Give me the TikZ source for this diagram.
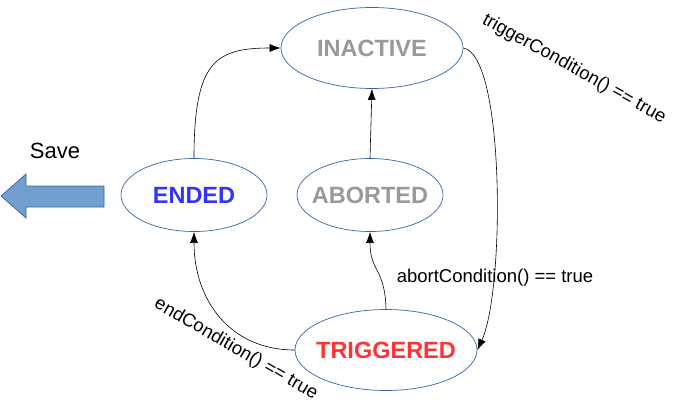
\documentclass[tikz,border=0pt]{standalone}
\usepackage{fontspec}
\setmainfont{Liberation Sans}
\usetikzlibrary{shapes.geometric,arrows.meta}
\definecolor{stateline}{HTML}{3465A4}
\definecolor{grayt}{HTML}{999999}
\definecolor{redt}{HTML}{FF3333}
\definecolor{bluet}{HTML}{3333FF}
\definecolor{arrowfill}{HTML}{729FCF}
\newcommand{\statetext}[1]{\makebox[0pt][c]{#1}}
\tikzset{
  state/.style={ellipse, draw=stateline, line width=0.7pt, inner sep=0pt,
    font=\fontsize{23.5}{28}\selectfont\bfseries},
  bigstate/.style={state, minimum width=182pt, minimum height=81pt},
  smallstate/.style={state, minimum width=146pt, minimum height=73pt},
  conn/.style={line width=0.6pt, -{Latex[length=11pt,width=8pt]}},
  lbl/.style={font=\fontsize{18.5}{22}\selectfont, inner sep=0pt},
}
\begin{document}
\begin{tikzpicture}[x=1pt,y=-1pt]
\useasboundingbox (0,0) rectangle (683,415);
\node[bigstate, text=grayt] (inactive) at (372,48) {\statetext{INACTIVE}};
\node[smallstate, text=grayt] (aborted) at (370,195) {\statetext{ABORTED}};
\node[smallstate, text=bluet] (ended) at (194,195) {\statetext{ENDED}};
\node[bigstate, text=redt] (triggered) at (386,350) {\statetext{TRIGGERED}};

\draw[conn] (ended.north) .. controls (194,62) and (215,48) .. (inactive.west);
\draw[conn] (aborted.north) -- (inactive.south);
\draw[conn] (inactive.east) .. controls (505,55) and (505,290) .. (triggered.east);
\draw[conn] (triggered.north) .. controls (385,268) and (370,272) .. (aborted.south);
\draw[conn] (triggered.west) .. controls (230,350) and (194,300) .. (ended.south);

\node[lbl, rotate=-29] (ltrig) at (574,69) {triggerCondition() == true};
\node[lbl] (labort) at (495,278) {abortCondition() == true};
\node[lbl, rotate=-30] (lend) at (236,349) {endCondition() == true};

\node[lbl, font=\fontsize{22}{26}\selectfont] (save) at (55,151) {Save};
\draw[draw=stateline, fill=arrowfill, line width=0.7pt]
  (104,186) -- (26,186) -- (26,174) -- (1,196) -- (26,218) -- (26,207) -- (104,207) -- cycle;
\end{tikzpicture}
\end{document}
